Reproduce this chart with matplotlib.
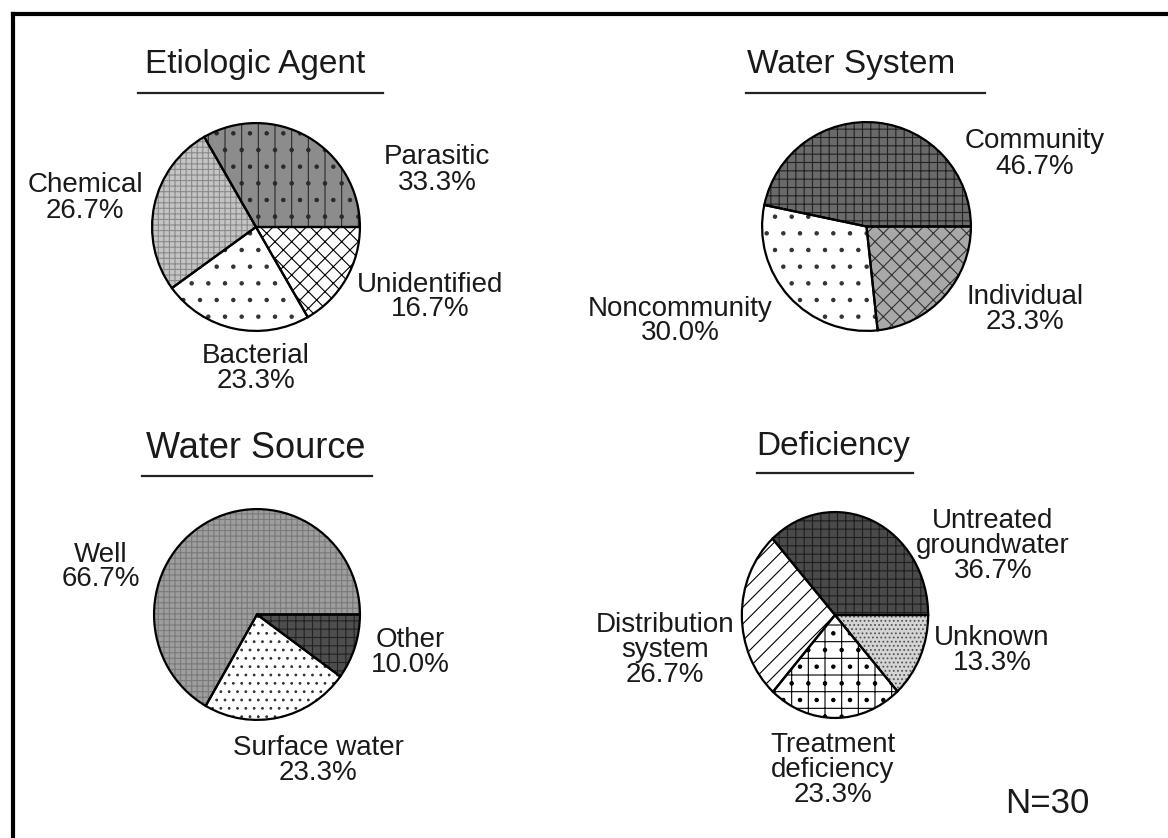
import numpy as np
import matplotlib.pyplot as plt
from matplotlib.lines import Line2D

plt.rcParams['font.family'] = ['Liberation Sans', 'DejaVu Sans']
plt.rcParams['hatch.linewidth'] = 0.8

W, H = 1168, 838

# data (percent of N=30 outbreaks)
agent_labels = ['Parasitic', 'Chemical', 'Bacterial', 'Unidentified']
agent_vals = [33.3, 26.7, 23.3, 16.7]

system_labels = ['Community', 'Noncommunity', 'Individual']
system_vals = [46.7, 30.0, 23.3]

source_labels = ['Well', 'Surface water', 'Other']
source_vals = [66.7, 23.3, 10.0]

defic_labels = ['Untreated\ngroundwater', 'Distribution\nsystem',
                'Treatment\ndeficiency', 'Unknown']
defic_vals = [36.7, 26.7, 23.3, 13.3]

n_total = 30


def px(x, y):
    return x / W, 1 - y / H


def pie_axes(x0, y0, x1, y1):
    l, t = px(x0, y0)
    r, b = px(x1, y1)
    return fig.add_axes([l, b, r - l, t - b])


def draw_pie(ax, vals, faces, hatches, hatchcols):
    wedges, _ = ax.pie(vals, startangle=0, counterclock=True, radius=1,
                       wedgeprops=dict(linewidth=0))
    for w, fc, h, hc in zip(wedges, faces, hatches, hatchcols):
        w.set_facecolor(fc)
        w.set_hatch(h)
        w.set_edgecolor(hc)
    # outlines on top
    ax.pie(vals, startangle=0, counterclock=True, radius=1,
           wedgeprops=dict(fill=False, edgecolor='black', linewidth=1.6))
    ax.set_aspect('auto')
    ax.set_xlim(-1.02, 1.02)
    ax.set_ylim(-1.02, 1.02)
    ax.axis('off')


def label(x, y, txt, size=20):
    fig.text(*px(x, y), txt, ha='center', va='center', fontsize=size,
             linespacing=0.95, color='#1a1a1a')


def title(x, y, txt, x0, x1, uy, size=24):
    fig.text(*px(x, y), txt, ha='center', va='baseline', fontsize=size,
             color='#1a1a1a')
    a, b = px(x0, uy)
    c, _ = px(x1, uy)
    fig.add_artist(Line2D([a, c], [b, b], color='#222222', lw=1.6))


fig = plt.figure(figsize=(W / 100, H / 100), dpi=100)

# page border (top and left edges)
fig.add_artist(Line2D([px(13, 0)[0], 1], [px(0, 14)[1]] * 2, color='black', lw=3))
fig.add_artist(Line2D([px(13, 0)[0]] * 2, [px(0, 14)[1], 0], color='black', lw=3))

# Etiologic Agent
ax1 = pie_axes(150, 121, 362, 333)
draw_pie(ax1, agent_vals,
         ['#8c8c8c', '#c4c4c4', 'white', 'white'],
         ['|.', '+++', '.', 'xx'],
         ['#2a2a2a', '#8a8a8a', '#333333', 'black'])
title(255, 73, 'Etiologic Agent', 138, 383, 93)
label(437, 170, 'Parasitic\n33.3%')
label(85, 198, 'Chemical\n26.7%')
label(430, 297, 'Unidentified\n16.7%')
label(256, 368, 'Bacterial\n23.3%')

# Water System
ax2 = pie_axes(760, 120, 973, 333)
draw_pie(ax2, system_vals,
         ['#6a6a6a', 'white', '#a8a8a8'],
         ['++', '.', 'xx'],
         ['#222222', '#333333', '#333333'])
title(851, 73, 'Water System', 746, 985, 93)
label(1035, 154, 'Community\n46.7%')
label(680, 321, 'Noncommunity\n30.0%')
label(1025, 309, 'Individual\n23.3%')

# Water Source
ax3 = pie_axes(152, 507, 362, 722)
draw_pie(ax3, source_vals,
         ['#9e9e9e', 'white', '#4e4e4e'],
         ['+++', '..', '++'],
         ['#7a7a7a', '#333333', '#222222'])
title(256, 458, 'Water Source', 142, 372, 476, size=26)
label(101, 567, 'Well\n66.7%')
label(318, 760, 'Surface water\n23.3%')
label(410, 652, 'Other\n10.0%')

# Deficiency
ax4 = pie_axes(740, 510, 930, 720)
draw_pie(ax4, defic_vals,
         ['#4a4a4a', 'white', 'white', '#d4d4d4'],
         ['++', '//', '+.', '....'],
         ['#1e1e1e', 'black', 'black', '#555555'])
title(833, 455, 'Deficiency', 757, 913, 473)
label(993, 546, defic_labels[0] + '\n36.7%')
label(665, 650, defic_labels[1] + '\n26.7%')
label(833, 770, defic_labels[2] + '\n23.3%')
label(992, 650, defic_labels[3] + '\n13.3%')

fig.text(*px(1047, 803), 'N=%d' % n_total, ha='center', va='center',
         fontsize=25, color='#1a1a1a')

fig.savefig('out.png', dpi=100)
